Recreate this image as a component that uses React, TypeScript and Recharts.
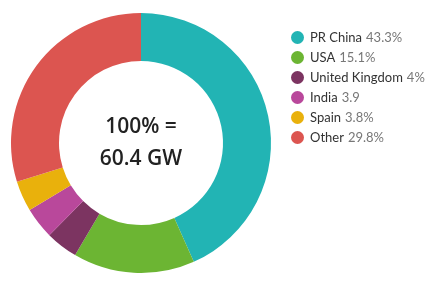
import { PieChart, Pie, Cell, Legend } from 'recharts';

const countries = ['PR China', 'USA', 'United Kingdom', 'India', 'Spain', 'Other'];
const shares = [43.3, 15.1, 4, 3.9, 3.8, 29.8];
const shareLabels = ['43.3%', '15.1%', '4%', '3.9', '3.8%', '29.8%'];
const colors = ['#22b4b4', '#6cb533', '#7c3461', '#b9489b', '#e9b10c', '#dc5550'];
const centerLines = ['100% =', '60.4 GW'];

const data = countries.map((name, i) => ({ name, value: shares[i], tag: shareLabels[i] }));

const FONT = 'Lato, "Noto Sans", sans-serif';
const CX = 141;
const CY = 143;

const LegendList = () => (
  <div style={{ fontFamily: FONT, fontSize: 13 }}>
    {data.map((d, i) => (
      <div key={d.name} style={{ display: 'flex', alignItems: 'center', height: 20 }}>
        <span
          style={{
            width: 13,
            height: 13,
            borderRadius: '50%',
            background: colors[i],
            marginRight: 6,
            display: 'inline-block',
          }}
        />
        <span style={{ color: '#333' }}>{d.name}</span>
        <span style={{ color: '#777', marginLeft: 4 }}>{d.tag}</span>
      </div>
    ))}
  </div>
);

const App = () => {
  return (
    <div style={{ position: 'fixed', left: 0, top: 0, width: 435, height: 282, background: '#fff' }}>
      <PieChart width={435} height={282} margin={{ top: 0, right: 0, bottom: 0, left: 0 }}>
        <Pie
          data={data}
          dataKey="value"
          nameKey="name"
          cx={CX}
          cy={CY}
          innerRadius={82}
          outerRadius={130}
          startAngle={90}
          endAngle={-270}
          stroke="none"
          isAnimationActive={false}
        >
          {data.map((d, i) => (
            <Cell key={d.name} fill={colors[i]} />
          ))}
        </Pie>
        <Legend
          layout="vertical"
          align="right"
          verticalAlign="top"
          content={<LegendList />}
          wrapperStyle={{ left: 291, top: 27, width: 150 }}
        />
      </PieChart>
      {/* center caption */}
      <div
        style={{
          position: 'absolute',
          left: CX - 70,
          top: CY - 34,
          width: 140,
          textAlign: 'center',
          fontFamily: '"Open Sans", Lato, sans-serif',
          fontSize: 21,
          fontWeight: 600,
          lineHeight: '32px',
          color: '#222',
        }}
      >
        {centerLines.map((t) => (
          <div key={t}>{t}</div>
        ))}
      </div>
    </div>
  );
};

export default App;
